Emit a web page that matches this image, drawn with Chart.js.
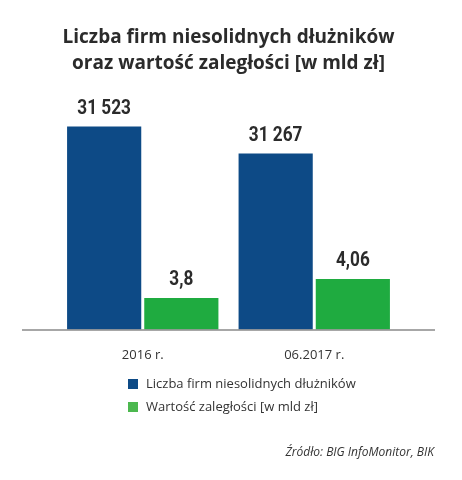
<!DOCTYPE html>
<html>
<head>
<meta charset="utf-8">
<script src="https://cdn.jsdelivr.net/npm/chart.js@4"></script>
<style>
  html, body { margin: 0; padding: 0; background: #fff; }
  #wrap { position: relative; width: 462px; height: 480px; }
  #legend { position: absolute; left: 128px; top: 375px; font: 13px "Open Sans", sans-serif; color: #333; }
  #legend div { height: 23px; line-height: 16px; }
  #legend span { display: inline-block; width: 10px; height: 10px; margin-right: 8px; vertical-align: -1px; }
  #source { position: absolute; right: 28px; top: 443px; font: italic 12px "Open Sans", sans-serif; color: #333; }
</style>
</head>
<body>
<div id="wrap">
  <canvas id="barChart" width="462" height="480"></canvas>
  <div id="legend"></div>
  <div id="source">Źródło: BIG InfoMonitor, BIK</div>
</div>
<script>
// categories and values
const categories = ['2016 r.', '06.2017 r.'];
const firmCount = [31523, 31267];
const debtValue = [3.8, 4.06];
const seriesNames = ['Liczba firm niesolidnych dłużników', 'Wartość zaległości [w mld zł]'];
const titleLines = ['Liczba firm niesolidnych dłużników', 'oraz wartość zaległości [w mld zł]'];

const blue = '#0d4a86';
const green = '#1fab40';
const legendGreen = '#4cb84f';

// number format like "31 523" and "4,06"
function fmt(v) {
    if (v >= 1000) return String(v).replace(/\B(?=(\d{3})+(?!\d))/g, ' ');
    return String(v).replace('.', ',');
}

// labels above the bars, squeezed to look condensed
const valueLabels = {
    id: 'valueLabels',
    afterDatasetsDraw(chart) {
        const c = chart.ctx;
        chart.data.datasets.forEach((ds, i) => {
            chart.getDatasetMeta(i).data.forEach((bar, j) => {
                c.save();
                c.font = 'bold 20px Roboto, sans-serif';
                c.fillStyle = '#2b2b2b';
                c.textAlign = 'center';
                c.textBaseline = 'middle';
                c.translate(bar.x, bar.y - 16);
                c.scale(0.86, 1);
                c.fillText(fmt(ds.data[j]), 0, 0);
                c.restore();
            });
        });
    }
};

// baseline running wider than the plot area
const baseline = {
    id: 'baseline',
    afterDatasetsDraw(chart) {
        const c = chart.ctx;
        const y = chart.chartArea.bottom + 0.5;
        c.save();
        c.strokeStyle = '#8a8a8a';
        c.lineWidth = 1.5;
        c.beginPath();
        c.moveTo(22, y);
        c.lineTo(435, y);
        c.stroke();
        c.restore();
    }
};

const ctx = document.getElementById('barChart').getContext('2d');
const barChart = new Chart(ctx, {
    type: 'bar',
    data: {
        labels: categories,
        datasets: [{
            label: seriesNames[0],
            data: firmCount,
            backgroundColor: blue,
            borderColor: '#ffffff',
            borderWidth: 1.5,
            borderSkipped: 'bottom',
            yAxisID: 'yCount'
        }, {
            label: seriesNames[1],
            data: debtValue,
            backgroundColor: green,
            borderColor: '#ffffff',
            borderWidth: 1.5,
            borderSkipped: 'bottom',
            yAxisID: 'yValue'
        }]
    },
    options: {
        responsive: false,
        animation: false,
        barPercentage: 1,
        categoryPercentage: 0.9,
        layout: { padding: { left: 57, right: 62, top: 0, bottom: 99 } },
        plugins: {
            legend: { display: false },
            tooltip: { enabled: false },
            title: {
                display: true,
                text: titleLines,
                color: '#2b2b2b',
                font: { family: '"Open Sans", sans-serif', size: 19, weight: 'bold', lineHeight: 1.37 },
                padding: { top: 25, bottom: 23 }
            }
        },
        scales: {
            x: {
                grid: { display: false, drawTicks: false },
                border: { display: false },
                ticks: {
                    color: '#333',
                    padding: 18,
                    font: { family: '"Open Sans", sans-serif', size: 13 }
                }
            },
            // each series sits on its own hidden axis
            yCount: {
                display: false,
                min: 29580,
                max: 31760
            },
            yValue: {
                display: false,
                min: 3.348,
                max: 6.49
            }
        }
    },
    plugins: [valueLabels, baseline]
});

// legend as a vertical list
const legendEl = document.getElementById('legend');
[blue, legendGreen].forEach((col, i) => {
    const row = document.createElement('div');
    const sw = document.createElement('span');
    sw.style.background = col;
    row.appendChild(sw);
    row.appendChild(document.createTextNode(seriesNames[i]));
    legendEl.appendChild(row);
});
</script>
</body>
</html>
